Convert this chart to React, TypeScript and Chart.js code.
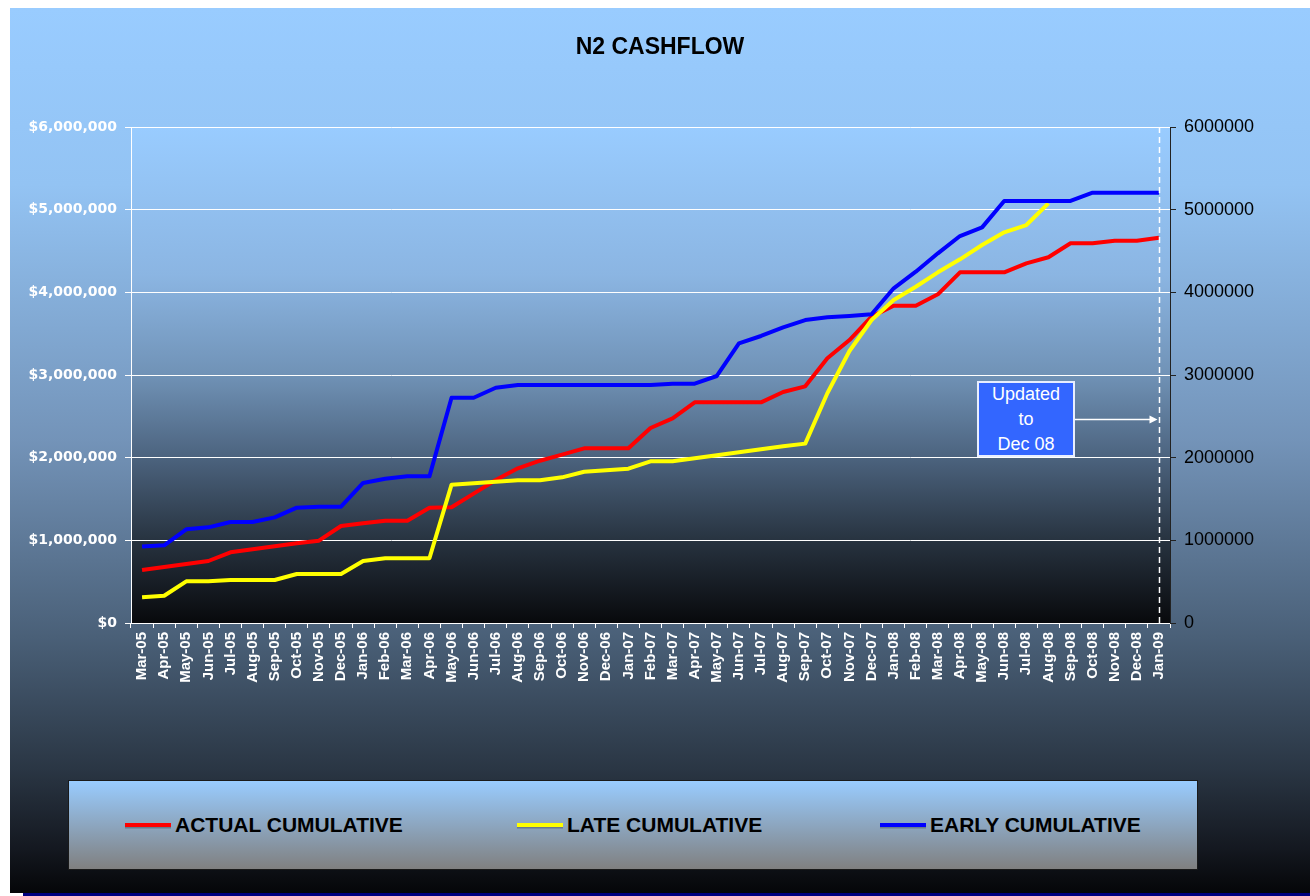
import React, { useEffect, useRef } from 'react';
import { Chart, registerables } from 'chart.js';

Chart.register(...registerables);

const categories = [
  'Mar-05', 'Apr-05', 'May-05', 'Jun-05', 'Jul-05', 'Aug-05', 'Sep-05', 'Oct-05', 'Nov-05', 'Dec-05',
  'Jan-06', 'Feb-06', 'Mar-06', 'Apr-06', 'May-06', 'Jun-06', 'Jul-06', 'Aug-06', 'Sep-06', 'Oct-06', 'Nov-06', 'Dec-06',
  'Jan-07', 'Feb-07', 'Mar-07', 'Apr-07', 'May-07', 'Jun-07', 'Jul-07', 'Aug-07', 'Sep-07', 'Oct-07', 'Nov-07', 'Dec-07',
  'Jan-08', 'Feb-08', 'Mar-08', 'Apr-08', 'May-08', 'Jun-08', 'Jul-08', 'Aug-08', 'Sep-08', 'Oct-08', 'Nov-08', 'Dec-08',
  'Jan-09',
];

const actualCumulative = [
  640000, 677000, 714000, 750000, 855000, 891000, 928000, 964000, 996000, 1173000,
  1206000, 1238000, 1238000, 1395000, 1400000, 1565000, 1730000, 1871000, 1963000, 2036000, 2113000, 2113000,
  2113000, 2359000, 2476000, 2669000, 2669000, 2669000, 2669000, 2794000, 2863000, 3202000, 3423000, 3706000,
  3838000, 3838000, 3976000, 4242000, 4242000, 4242000, 4351000, 4424000, 4593000, 4593000, 4625000, 4625000,
  4661000,
];

const lateCumulative = [
  311000, 330000, 504000, 504000, 520000, 520000, 520000, 593000, 593000, 593000,
  750000, 783000, 783000, 783000, 1673000, 1690000, 1709000, 1726000, 1726000, 1762000, 1830000, 1847000,
  1867000, 1956000, 1956000, 1992000, 2029000, 2065000, 2101000, 2137000, 2170000, 2779000, 3290000, 3665000,
  3907000, 4068000, 4242000, 4399000, 4572000, 4726000, 4814000, 5077000, null, null, null, null,
  null,
];

const earlyCumulative = [
  925000, 940000, 1133000, 1157000, 1222000, 1222000, 1278000, 1395000, 1407000, 1407000,
  1694000, 1746000, 1774000, 1774000, 2725000, 2725000, 2846000, 2879000, 2879000, 2879000, 2879000, 2879000,
  2879000, 2879000, 2895000, 2895000, 2988000, 3383000, 3472000, 3577000, 3665000, 3698000, 3714000, 3734000,
  4049000, 4250000, 4472000, 4681000, 4786000, 5105000, 5105000, 5105000, 5105000, 5205000, 5205000, 5205000,
  5205000,
];

const seriesLabels = ['ACTUAL CUMULATIVE', 'LATE CUMULATIVE', 'EARLY CUMULATIVE'];
const seriesColors = ['#ff0000', '#ffff00', '#0000ff'];

const axisMin = 0;
const axisMax = 6000000;
const axisStep = 1000000;

const chartTitle = 'N2 CASHFLOW';
const noteLines = ['Updated', 'to', 'Dec 08'];
const noteCategoryIndex = 46;
const noteArrowValue = 2470000;

const SANS = "'Liberation Sans', Arial, sans-serif";

const plotBackground = {
  id: 'plotBackground',
  beforeDraw(chart: any) {
    const { ctx, chartArea } = chart;
    const { left, top, right, bottom } = chartArea;
    const g = ctx.createLinearGradient(0, top, 0, bottom);
    g.addColorStop(0, '#99ccff');
    g.addColorStop(0.3, '#8bb5e2');
    g.addColorStop(0.5, '#7092b6');
    g.addColorStop(0.67, '#4b627d');
    g.addColorStop(0.83, '#283441');
    g.addColorStop(1, '#08090c');
    ctx.save();
    ctx.fillStyle = g;
    ctx.fillRect(left, top, right - left, bottom - top);
    ctx.restore();
  },
};

const noteMarks = {
  id: 'noteMarks',
  afterDatasetsDraw(chart: any) {
    const { ctx, chartArea, scales } = chart;
    const x = Math.round(scales.x.getPixelForValue(noteCategoryIndex)) + 0.5;
    ctx.save();
    ctx.strokeStyle = '#ffffff';
    ctx.lineWidth = 1.5;
    ctx.setLineDash([6, 4]);
    ctx.beginPath();
    ctx.moveTo(x, chartArea.top);
    ctx.lineTo(x, chartArea.bottom);
    ctx.stroke();
    ctx.setLineDash([]);
    const y = Math.round(scales.y.getPixelForValue(noteArrowValue)) + 0.5;
    const x0 = 1065;
    const x1 = x - 2;
    ctx.lineWidth = 1.5;
    ctx.beginPath();
    ctx.moveTo(x0, y);
    ctx.lineTo(x1 - 6, y);
    ctx.stroke();
    ctx.fillStyle = '#ffffff';
    ctx.beginPath();
    ctx.moveTo(x1, y);
    ctx.lineTo(x1 - 8, y - 4);
    ctx.lineTo(x1 - 8, y + 4);
    ctx.closePath();
    ctx.fill();
    ctx.restore();
  },
};

export default function App() {
  const canvasRef = useRef<HTMLCanvasElement | null>(null);

  useEffect(() => {
    const canvas = canvasRef.current;
    if (!canvas) return;
    const seriesData = [actualCumulative, lateCumulative, earlyCumulative];
    const chart = new Chart(canvas, {
      type: 'line',
      data: {
        labels: categories,
        datasets: seriesData.map((d, i) => ({
          label: seriesLabels[i],
          data: d,
          borderColor: seriesColors[i],
          backgroundColor: seriesColors[i],
          borderWidth: 4,
          pointRadius: 0,
          tension: 0,
          fill: false,
          spanGaps: false,
          yAxisID: 'y',
          order: 3 - i,
          borderJoinStyle: 'round',
        })),
      },
      options: {
        responsive: false,
        animation: false,
        events: [],
        layout: { padding: { top: 119, left: 0, right: 0, bottom: 0 } },
        plugins: {
          legend: { display: false },
          title: { display: false },
          tooltip: { enabled: false },
        },
        scales: {
          x: {
            type: 'category',
            offset: true,
            grid: {
              display: true,
              drawOnChartArea: false,
              drawTicks: true,
              tickLength: 5,
              color: '#ffffff',
              offset: true,
            },
            border: { display: true, color: '#ffffff', width: 1 },
            ticks: {
              color: '#ffffff',
              font: { family: SANS, weight: 'bold', size: 15 },
              minRotation: 90,
              maxRotation: 90,
              autoSkip: false,
              padding: 4,
            },
            afterFit: (s: any) => { s.height = 270; },
          },
          y: {
            position: 'left',
            min: axisMin,
            max: axisMax,
            ticks: {
              stepSize: axisStep,
              color: '#ffffff',
              font: { family: "'DejaVu Sans', sans-serif", weight: 'bold', size: 14 },
              padding: 8,
              callback: (v: any) => '$' + Number(v).toLocaleString('en-US'),
            },
            grid: { color: '#ffffff', lineWidth: 1, tickLength: 6, drawTicks: true },
            border: { color: '#ffffff', width: 1 },
            afterFit: (s: any) => { s.width = 121; },
          },
          y2: {
            position: 'right',
            min: axisMin,
            max: axisMax,
            ticks: {
              stepSize: axisStep,
              color: '#000000',
              font: { family: SANS, size: 18 },
              padding: 8,
              callback: (v: any) => String(v),
            },
            grid: { drawOnChartArea: false, color: '#222222', tickLength: 6 },
            border: { color: '#222222', width: 1 },
            afterFit: (s: any) => { s.width = 140; },
          },
        },
      } as any,
      plugins: [plotBackground, noteMarks],
    });
    return () => chart.destroy();
  }, []);

  const legendPositions = [57, 449, 812];

  return (
    <div style={{ position: 'absolute', left: 0, top: 0, width: 1310, height: 896, overflow: 'hidden', background: '#ffffff' }}>
      <div
        style={{
          position: 'absolute', left: 10, top: 8, width: 1300, height: 885,
          background: 'linear-gradient(to bottom, #99ccff 0%, #93c3f3 20%, #7393b8 49%, #4a6078 71%, #2a3644 86%, #141820 95%, #050608 100%)',
        }}
      >
        <canvas ref={canvasRef} width={1300} height={885} style={{ position: 'absolute', left: 0, top: 0 }} />
        <div
          style={{
            position: 'absolute', left: 0, top: 27, width: 1300, textAlign: 'center',
            font: `bold 23px ${SANS}`, lineHeight: '23px', color: '#000000',
          }}
        >
          {chartTitle}
        </div>
        <div
          style={{
            position: 'absolute', left: 967, top: 373, width: 94, height: 72,
            background: '#3366ff', border: '2px solid #e8eeff', color: '#ffffff',
            font: `18px ${SANS}`, lineHeight: '25px', textAlign: 'center',
            display: 'flex', flexDirection: 'column', justifyContent: 'center',
          }}
        >
          {noteLines.map((t, i) => <div key={i}>{t}</div>)}
        </div>
        <div
          style={{
            position: 'absolute', left: 58, top: 772, width: 1128, height: 88,
            border: '1px solid #1a1a1a',
            background: 'linear-gradient(to bottom, #99ccff, #808080)',
          }}
        >
          {seriesLabels.map((lbl, i) => (
            <div key={lbl} style={{ position: 'absolute', left: legendPositions[i] - 1, top: 0, height: 88, display: 'flex', alignItems: 'center' }}>
              <div style={{ width: 46, height: 4, background: seriesColors[i], boxShadow: '0 1.5px 0 rgba(0,0,0,0.25)', marginRight: 4 }} />
              <span style={{ font: `bold 21px ${SANS}`, color: '#000000', whiteSpace: 'nowrap' }}>{lbl}</span>
            </div>
          ))}
        </div>
      </div>
      <div style={{ position: 'absolute', left: 23, top: 893, width: 1287, height: 3, background: '#000080' }} />
    </div>
  );
}
